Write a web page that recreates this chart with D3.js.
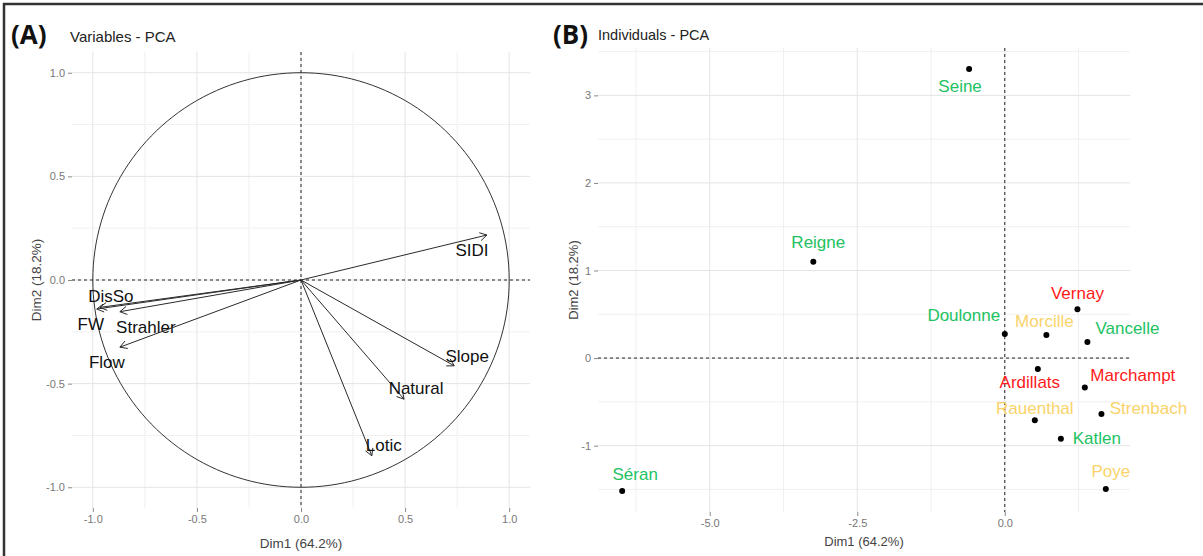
<!DOCTYPE html>
<html>
<head>
<meta charset="utf-8">
<script src="https://cdn.jsdelivr.net/npm/d3@7"></script>
<style>
  html, body { margin: 0; padding: 0; background: #fff; }
  svg { display: block; }
  text { font-family: "Liberation Sans", Arial, sans-serif; }
</style>
</head>
<body>
<svg id="chart" width="1203" height="556"></svg>
<script>
// ---------- DATA ----------
// Panel A: variables (correlation circle)
const varNames = ["SIDI", "Slope", "Natural", "Lotic", "DisSo", "FW", "Strahler", "Flow"];
const varDim1  = [0.893, 0.736, 0.495, 0.340, -0.966, -0.981, -0.870, -0.870];
const varDim2  = [0.217, -0.414, -0.575, -0.848, -0.132, -0.140, -0.153, -0.324];

// Panel B: individuals
const siteNames = ["Seine", "Reigne", "Doulonne", "Morcille", "Vernay", "Vancelle", "Ardillats",
                   "Marchampt", "Rauenthal", "Strenbach", "Katlen", "Poye", "Séran"];
const siteDim1  = [-0.605, -3.245, 0.000, 0.705, 1.231, 1.400, 0.560, 1.356, 0.509, 1.638, 0.950, 1.712, -6.484];
const siteDim2  = [3.300, 1.100, 0.274, 0.263, 0.557, 0.183, -0.126, -0.335, -0.709, -0.640, -0.922, -1.495, -1.517];
const siteGroup = ["g1", "g1", "g1", "g3", "g2", "g1", "g2", "g2", "g3", "g3", "g1", "g3", "g1"];

// Tick values / labels
const ticksA      = [-1, -0.5, 0, 0.5, 1];
const tickLabelsA = ["-1.0", "-0.5", "0.0", "0.5", "1.0"];
const ticksBx      = [-5, -2.5, 0];
const tickLabelsBx = ["-5.0", "-2.5", "0.0"];
const ticksBy      = [-1, 0, 1, 2, 3];
const tickLabelsBy = ["-1", "0", "1", "2", "3"];

const dim1Title = "Dim1 (64.2%)";
const dim2Title = "Dim2 (18.2%)";

// ---------- LAYOUT / STYLE ----------
const groupColor = { g1: "#22c262", g2: "#ff1a1a", g3: "#f9d36a" };
// label offsets (px) from mark, mimicking repel placement
const varLabelOffset = {
  SIDI: [-15, 15], Slope: [13, -10], Natural: [12, -11], Lotic: [12, -11],
  DisSo: [11, -11], FW: [-6, 15], Strahler: [26, 15], Flow: [-13, 15]
};
const siteLabelOffset = {
  Seine: [-9, 17], Reigne: [5, -20], Doulonne: [-41, -19], Morcille: [-2, -14],
  Vernay: [0, -16], Vancelle: [40, -14], Ardillats: [-8, 13], Marchampt: [48, -12],
  Rauenthal: [0, -12], Strenbach: [47, -6], Katlen: [36, -1], Poye: [5, -18], "Séran": [13, -17]
};

const svg = d3.select("#chart");

// outer frame (top + left)
svg.append("line").attr("x1", 3).attr("x2", 1203).attr("y1", 4).attr("y2", 4)
  .attr("stroke", "#333").attr("stroke-width", 2.5);
svg.append("line").attr("x1", 4).attr("x2", 4).attr("y1", 3).attr("y2", 556)
  .attr("stroke", "#333").attr("stroke-width", 2.5);

function minorBetween(majors, domain) {
  const step = majors[1] - majors[0];
  const out = [];
  for (let v = majors[0] - step / 2; v <= domain[1] + 1e-9; v += step) {
    if (v >= domain[0] && v <= domain[1]) out.push(+v.toFixed(6));
  }
  return out;
}

function drawPanel(cfg) {
  const g = svg.append("g");
  const { x, y } = cfg;
  const [x0, x1] = x.range();
  const [y0, y1] = y.range(); // y0 bottom, y1 top
  const xd = x.domain(), yd = y.domain();

  // minor grid
  minorBetween(cfg.xTicks, xd).forEach(v => {
    g.append("line").attr("x1", x(v)).attr("x2", x(v)).attr("y1", y1).attr("y2", y0)
      .attr("stroke", "#f0f0f0").attr("stroke-width", 1);
  });
  minorBetween(cfg.yTicks, yd).forEach(v => {
    g.append("line").attr("y1", y(v)).attr("y2", y(v)).attr("x1", x0).attr("x2", x1)
      .attr("stroke", "#f0f0f0").attr("stroke-width", 1);
  });
  // major grid
  cfg.xTicks.forEach(v => {
    g.append("line").attr("x1", x(v)).attr("x2", x(v)).attr("y1", y1).attr("y2", y0)
      .attr("stroke", "#e4e4e4").attr("stroke-width", 1);
  });
  cfg.yTicks.forEach(v => {
    g.append("line").attr("y1", y(v)).attr("y2", y(v)).attr("x1", x0).attr("x2", x1)
      .attr("stroke", "#e4e4e4").attr("stroke-width", 1);
  });

  // axes
  const xa = d3.axisBottom(x).tickValues(cfg.xTicks).tickSize(4).tickPadding(3)
    .tickFormat((d, i) => cfg.xLabels[i]);
  const ya = d3.axisLeft(y).tickValues(cfg.yTicks).tickSize(4).tickPadding(3)
    .tickFormat((d, i) => cfg.yLabels[i]);
  const gx = g.append("g").attr("transform", `translate(0,${y0})`).call(xa);
  const gy = g.append("g").attr("transform", `translate(${x0},0)`).call(ya);
  [gx, gy].forEach(a => {
    a.select(".domain").remove();
    a.selectAll(".tick line").attr("stroke", "#888");
    a.selectAll(".tick text").attr("fill", "#777").style("font-size", "11px")
      .style("font-family", "'Liberation Sans', Arial, sans-serif");
  });

  // zero lines
  g.append("line").attr("x1", x0).attr("x2", x1).attr("y1", y(0)).attr("y2", y(0))
    .attr("stroke", "#222").attr("stroke-width", 1).attr("stroke-dasharray", "3,3");
  g.append("line").attr("x1", x(0)).attr("x2", x(0)).attr("y1", y1).attr("y2", y0)
    .attr("stroke", "#222").attr("stroke-width", 1).attr("stroke-dasharray", "3,3");

  // axis titles
  g.append("text").attr("x", (x0 + x1) / 2).attr("y", cfg.xTitleY)
    .attr("text-anchor", "middle").attr("fill", "#444").style("font-size", cfg.axisTitleSize)
    .text(dim1Title);
  g.append("text").attr("transform", `translate(${cfg.yTitleX},${(y0 + y1) / 2}) rotate(-90)`)
    .attr("text-anchor", "middle").attr("fill", "#444").style("font-size", cfg.axisTitleSize)
    .text(dim2Title);

  // panel tag + title
  g.append("text").attr("x", cfg.tagX).attr("y", cfg.tagY)
    .style("font-family", "'Open Sans', 'Liberation Sans', sans-serif")
    .style("font-weight", "bold").style("font-size", "26px").attr("fill", "#111")
    .text(cfg.tag);
  g.append("text").attr("x", cfg.titleX).attr("y", cfg.titleY)
    .style("font-size", cfg.titleSize).attr("fill", "#222").text(cfg.title);
  return g;
}

// ---------- PANEL A ----------
const xA = d3.scaleLinear().domain([-1.1, 1.1]).range([72, 530]);
const yA = d3.scaleLinear().domain([-1.1, 1.1]).range([508, 52]);
const gA = drawPanel({
  x: xA, y: yA, xTicks: ticksA, yTicks: ticksA, xLabels: tickLabelsA, yLabels: tickLabelsA,
  xTitleY: 548, yTitleX: 41, axisTitleSize: "13.5px",
  tag: "(A)", tagX: 11, tagY: 44, title: "Variables - PCA", titleX: 70, titleY: 42, titleSize: "15px"
});

// correlation circle
const circ = d3.range(0, 361, 2).map(a => [Math.cos(a * Math.PI / 180), Math.sin(a * Math.PI / 180)]);
gA.append("path")
  .attr("d", d3.line().x(d => xA(d[0])).y(d => yA(d[1]))(circ))
  .attr("fill", "none").attr("stroke", "#333").attr("stroke-width", 1);

// arrows
varNames.forEach((n, i) => {
  const xs = xA(0), ys = yA(0), xe = xA(varDim1[i]), ye = yA(varDim2[i]);
  gA.append("line").attr("x1", xs).attr("y1", ys).attr("x2", xe).attr("y2", ye)
    .attr("stroke", "#2a2a2a").attr("stroke-width", 1);
  const ang = Math.atan2(ye - ys, xe - xs);
  const L = 8, w = Math.PI / 6;
  const p1 = [xe - L * Math.cos(ang - w), ye - L * Math.sin(ang - w)];
  const p2 = [xe - L * Math.cos(ang + w), ye - L * Math.sin(ang + w)];
  gA.append("path").attr("d", `M${p1[0]},${p1[1]}L${xe},${ye}L${p2[0]},${p2[1]}`)
    .attr("fill", "none").attr("stroke", "#2a2a2a").attr("stroke-width", 1);
  const off = varLabelOffset[n];
  gA.append("text").attr("x", xe + off[0]).attr("y", ye + off[1])
    .attr("text-anchor", "middle").attr("dy", "0.35em")
    .style("font-size", "17px").attr("fill", "#111").text(n);
});

// ---------- PANEL B ----------
function expand(vals, f) {
  const e = d3.extent(vals), r = e[1] - e[0];
  return [e[0] - r * f, e[1] + r * f];
}
const xB = d3.scaleLinear().domain(expand(siteDim1, 0.05)).range([598, 1130]);
const yB = d3.scaleLinear().domain(expand(siteDim2, 0.05)).range([512, 48]);
const gB = drawPanel({
  x: xB, y: yB, xTicks: ticksBx, yTicks: ticksBy, xLabels: tickLabelsBx, yLabels: tickLabelsBy,
  xTitleY: 546, yTitleX: 578, axisTitleSize: "13px",
  tag: "(B)", tagX: 553, tagY: 44, title: "Individuals - PCA", titleX: 598, titleY: 40, titleSize: "14.5px"
});

siteNames.forEach((n, i) => {
  const px = xB(siteDim1[i]), py = yB(siteDim2[i]);
  gB.append("circle").attr("cx", px).attr("cy", py).attr("r", 3).attr("fill", "#000");
  const off = siteLabelOffset[n];
  gB.append("text").attr("x", px + off[0]).attr("y", py + off[1])
    .attr("text-anchor", "middle").attr("dy", "0.35em")
    .style("font-size", "17px").attr("fill", groupColor[siteGroup[i]]).text(n);
});
</script>
</body>
</html>
